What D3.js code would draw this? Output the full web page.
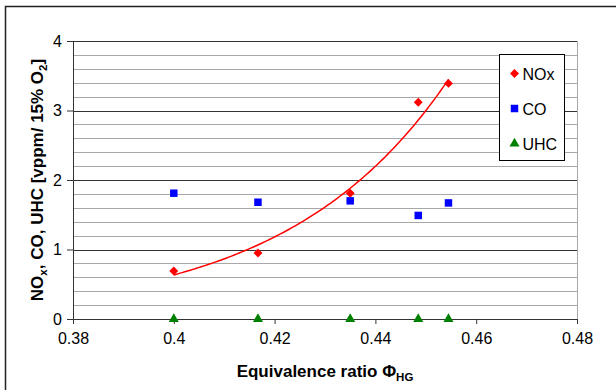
<!DOCTYPE html>
<html>
<head>
<meta charset="utf-8">
<script src="https://cdn.jsdelivr.net/npm/d3@7"></script>
<style>
  body { margin: 0; background: #fff; }
  svg { display: block; }
  svg text { font-family: "Liberation Sans", Arial, sans-serif; }
</style>
</head>
<body>
<svg width="616" height="390"></svg>
<script>
var phi = [0.4, 0.4167, 0.435, 0.4485, 0.4545];
var nox = [0.69, 0.95, 1.81, 3.12, 3.39];
var co  = [1.81, 1.68, 1.70, 1.49, 1.67];
var uhc = [0, 0, 0, 0, 0];
var xTicks = [0.38, 0.40, 0.42, 0.44, 0.46, 0.48];
var yTicks = [0, 1, 2, 3, 4];
var series = [
  {name: "NOx", values: nox, color: "#ff0000", shape: "diamond"},
  {name: "CO", values: co, color: "#0000ff", shape: "square"},
  {name: "UHC", values: uhc, color: "#008000", shape: "triangle"}
];

var svg = d3.select("svg"),
    margin = {top: 41, right: 39, bottom: 71, left: 73},
    width = +svg.attr("width") - margin.left - margin.right,
    height = +svg.attr("height") - margin.top - margin.bottom;

var x = d3.scaleLinear().domain([0.38, 0.48]).range([0, width]),
    y = d3.scaleLinear().domain([0, 4]).range([height, 0]);

// marker drawing: diamond is a rotated square like excel's
function marker(sel, shape) {
  if (shape === "diamond") {
    sel.attr("d", d3.symbol().type(d3.symbolSquare).size(40)())
       .attr("transform", function() { return d3.select(this).attr("transform") + "rotate(45)"; });
  } else if (shape === "square") {
    sel.attr("d", d3.symbol().type(d3.symbolSquare).size(56)());
  } else {
    sel.attr("d", d3.symbol().type(d3.symbolTriangle).size(44)());
  }
}

// outer chart border (runs off the right and bottom edge)
svg.append("rect")
    .attr("x", 5.5).attr("y", 6.5)
    .attr("width", 640).attr("height", 420)
    .attr("fill", "none").attr("stroke", "#222").attr("stroke-width", 1.5);

var g = svg.append("g")
    .attr("transform", "translate(" + margin.left + "," + margin.top + ")");

// minor + major gridlines
var minor = d3.range(0, 4.01, 0.2).filter(function(d) { return Math.abs(d - Math.round(d)) > 1e-6; });
g.selectAll(".minor").data(minor).enter().append("line")
    .attr("x1", 0).attr("x2", width)
    .attr("y1", function(d) { return Math.round(y(d)) + 0.5; })
    .attr("y2", function(d) { return Math.round(y(d)) + 0.5; })
    .attr("stroke", "#a8a8a8");
g.selectAll(".major").data(yTicks.slice(1)).enter().append("line")
    .attr("x1", 0).attr("x2", width)
    .attr("y1", function(d) { return Math.round(y(d)) + 0.5; })
    .attr("y2", function(d) { return Math.round(y(d)) + 0.5; })
    .attr("stroke", "#333");

// right border of plot area
g.append("line")
    .attr("x1", width + 0.5).attr("x2", width + 0.5)
    .attr("y1", 0).attr("y2", height)
    .attr("stroke", "#a8a8a8");

var xAxis = d3.axisBottom(x).tickValues(xTicks).tickSize(5).tickPadding(9)
    .tickFormat(function(d) { return String(+d.toFixed(2)); });
var yAxis = d3.axisLeft(y).tickValues(yTicks).tickSize(6).tickPadding(5)
    .tickFormat(d3.format("d"));

g.append("g")
    .attr("transform", "translate(0," + height + ")")
    .call(xAxis)
    .call(function(a) { a.select(".domain").attr("stroke", "#333"); })
    .call(function(a) { a.selectAll("line").attr("stroke", "#333"); })
    .selectAll("text").style("font-size", "16px").attr("fill", "#000");

g.append("g")
    .call(yAxis)
    .call(function(a) { a.select(".domain").attr("stroke", "#333"); })
    .call(function(a) { a.selectAll("line").attr("stroke", "#333"); })
    .selectAll("text").style("font-size", "16px").attr("fill", "#000");

// exponential trendline for NOx (least squares on ln y)
var lx = phi, ly = nox.map(Math.log);
var mx = d3.mean(lx), my = d3.mean(ly);
var b = d3.sum(lx, function(v, i) { return (v - mx) * (ly[i] - my); }) /
        d3.sum(lx, function(v) { return (v - mx) * (v - mx); });
var a = Math.exp(my - b * mx);
var trendX = d3.range(0, 101).map(function(i) { return phi[0] + (phi[phi.length - 1] - phi[0]) * i / 100; });
var trend = d3.line()
    .x(function(d) { return x(d); })
    .y(function(d) { return y(a * Math.exp(b * d)); });
g.append("path")
    .attr("d", trend(trendX))
    .attr("fill", "none").attr("stroke", "#ff0000").attr("stroke-width", 1.5);

series.forEach(function(s) {
  g.selectAll(null).data(s.values).enter().append("path")
    .attr("transform", function(d, i) { return "translate(" + x(phi[i]) + "," + y(d) + ")"; })
    .attr("fill", s.color)
    .call(marker, s.shape);
});

// legend
var legend = svg.append("g").attr("transform", "translate(499.5,54.5)");
legend.append("rect")
    .attr("width", 65).attr("height", 106)
    .attr("fill", "#fff").attr("stroke", "#000");
series.forEach(function(s, i) {
  var ly0 = 19 + i * 35;
  legend.append("path")
    .attr("transform", "translate(15," + ly0 + ")")
    .attr("fill", s.color)
    .call(marker, s.shape);
  legend.append("text")
    .attr("x", 23).attr("y", ly0 + 6)
    .style("font-size", "16px")
    .text(s.name);
});

// axis titles
var xt = svg.append("text")
    .attr("x", margin.left + width / 2).attr("y", 377)
    .attr("text-anchor", "middle")
    .style("font-size", "17px").style("font-weight", "bold");
xt.append("tspan").text("Equivalence ratio \u03A6");
xt.append("tspan").attr("dy", 4).style("font-size", "11.5px").text("HG");

var yt = svg.append("text")
    .attr("transform", "translate(43," + (margin.top + height / 2) + ")rotate(-90)")
    .attr("text-anchor", "middle")
    .style("font-size", "17px").style("font-weight", "bold");
yt.append("tspan").text("NO");
yt.append("tspan").attr("dy", 4).style("font-size", "11.5px").text("x");
yt.append("tspan").attr("dy", -4).text(", CO, UHC [vppm/ 15% O");
yt.append("tspan").attr("dy", 4).style("font-size", "11.5px").text("2");
yt.append("tspan").attr("dy", -4).text("]");
</script>
</body>
</html>
